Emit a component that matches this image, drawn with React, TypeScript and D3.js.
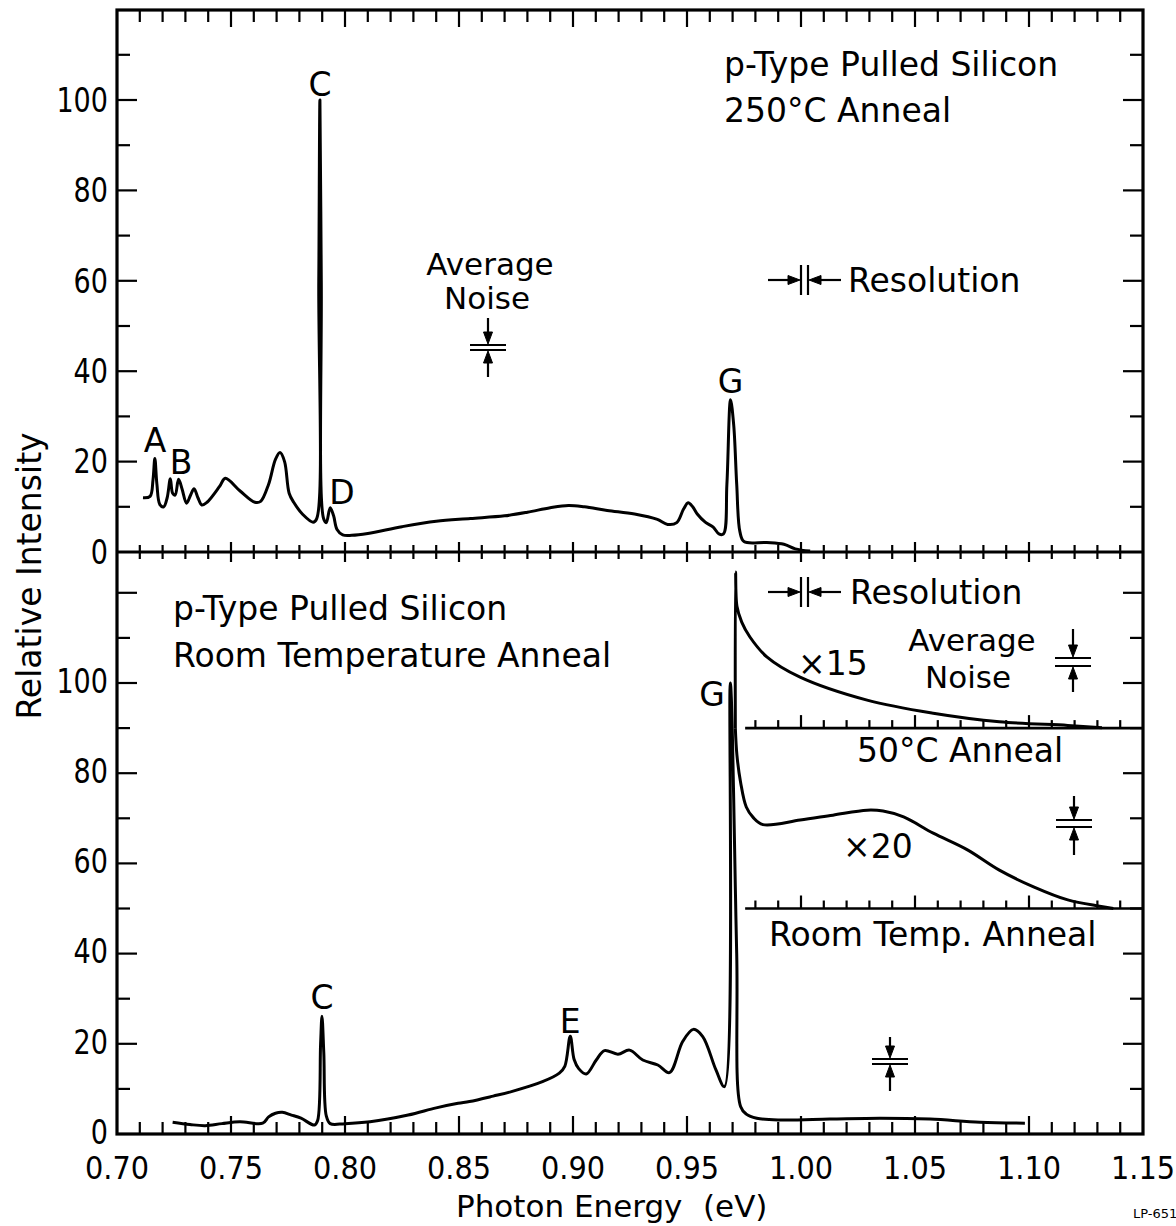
import React from "react";
import * as d3 from "d3";

// ---------- data ----------
const xTickLabels = [0.7, 0.75, 0.8, 0.85, 0.9, 0.95, 1.0, 1.05, 1.1, 1.15];
const yTickLabels = [0, 20, 40, 60, 80, 100];

// top panel: p-type pulled silicon, 250°C anneal
const anneal250: [number, number][] = [
  [0.7114, 12.0], [0.7145, 12.3], [0.7158, 16], [0.7166, 20.7], [0.7175, 15],
  [0.7188, 10.5], [0.7205, 10.0], [0.722, 12], [0.7234, 16.2], [0.7244, 13.0],
  [0.7255, 12.6], [0.727, 16.1], [0.7285, 14], [0.7305, 10.8], [0.7322, 12.5],
  [0.7338, 14.0], [0.7355, 12], [0.7372, 10.4], [0.7395, 11.0], [0.745, 14.5],
  [0.7475, 16.3], [0.754, 13.5], [0.7605, 11.0], [0.763, 11.2], [0.7665, 15],
  [0.7695, 20.5], [0.7715, 22.0], [0.7735, 20.0], [0.7755, 13], [0.7775, 11],
  [0.7815, 8.3], [0.786, 6.6], [0.7876, 7.4], [0.7885, 60], [0.789, 100],
  [0.7896, 60], [0.7906, 7.4], [0.7918, 6.5], [0.7935, 9.8], [0.795, 8],
  [0.7965, 5], [0.799, 3.8], [0.803, 3.7], [0.81, 4.1], [0.825, 5.6],
  [0.84, 6.8], [0.855, 7.4], [0.87, 8.0], [0.88, 8.8], [0.89, 9.8],
  [0.898, 10.3], [0.905, 10.0], [0.915, 9.2], [0.927, 8.4], [0.937, 7.2],
  [0.9415, 6.1], [0.9455, 6.5], [0.9485, 9.5], [0.9505, 10.9], [0.9525, 10.0],
  [0.9545, 8.4], [0.958, 6.6], [0.9615, 5.5], [0.964, 4.0], [0.966, 4.0],
  [0.9675, 15], [0.9691, 33.7], [0.9705, 28], [0.9718, 15], [0.9732, 4.5],
  [0.975, 2.3], [0.985, 2.1], [0.9925, 1.7], [0.9975, 0.7], [1.004, 0.2],
];

// bottom panel: room temperature anneal
const roomTemp: [number, number][] = [
  [0.7244, 2.6], [0.732, 2.1], [0.7387, 1.85], [0.746, 2.3], [0.7538, 2.7],
  [0.7639, 2.4], [0.7665, 3.8], [0.7695, 4.6], [0.7725, 4.8], [0.7765, 4.2],
  [0.7807, 3.5], [0.7866, 2.0], [0.788, 3], [0.7893, 20], [0.7899, 26.1],
  [0.7907, 18], [0.7918, 4], [0.7935, 2.3], [0.8, 2.3], [0.811, 2.7],
  [0.8277, 4.2], [0.84, 5.8], [0.8496, 6.8], [0.8546, 7.2], [0.865, 8.4],
  [0.873, 9.4], [0.8866, 11.6], [0.894, 13.5], [0.8964, 15], [0.8988, 21.7],
  [0.9005, 16.5], [0.9025, 14.5], [0.9058, 13.3], [0.9102, 16.4], [0.9138, 18.5],
  [0.9197, 17.7], [0.9248, 18.6], [0.9306, 16.4], [0.9372, 15.3], [0.9423, 13.6],
  [0.9481, 20.5], [0.9528, 23.2], [0.9569, 21.6], [0.9627, 14.2], [0.9664, 10.5],
  [0.969, 100], [0.9718, 40], [0.9735, 6.1], [0.976, 4.4], [0.9806, 3.5],
  [0.9908, 3.1], [1.0127, 3.3], [1.0346, 3.5], [1.0566, 3.3], [1.0785, 2.6],
  [1.0982, 2.4],
];

// inset x15 (50°C anneal), baseline 90
const times15: [number, number][] = [
  [0.9712, 90], [0.9713, 124.6], [0.9719, 117], [0.974, 113.5], [0.9776, 110.2],
  [0.985, 105.8], [0.9996, 101.3], [1.029, 96.2], [1.058, 93.3], [1.087, 91.4],
  [1.117, 90.6], [1.132, 90.1],
];

// inset x20 (room temp anneal), baseline 50
const times20: [number, number][] = [
  [0.9712, 90], [0.9719, 84], [0.9735, 78], [0.976, 72.5], [0.979, 70.2],
  [0.9833, 68.6], [0.9996, 69.6], [1.014, 70.7], [1.029, 71.8], [1.036, 71.6],
  [1.045, 70.3], [1.058, 66.7], [1.073, 63.0], [1.087, 58.5], [1.102, 54.8],
  [1.117, 51.9], [1.131, 50.5], [1.137, 50.0],
];

const insetBaselines = [90, 50];

// ---------- layout ----------
const W = 1176, H = 1226;
const L = 117, R = 1143, T = 10, MID = 552, B = 1134;
const FONT = "'DejaVu Sans', sans-serif";
const SW = 3;

const x = d3.scaleLinear().domain([0.7, 1.15]).range([L, R]);
const yTop = d3.scaleLinear().domain([0, 100]).range([MID, 100]);
const yBot = d3.scaleLinear().domain([0, 100]).range([B, 683]);

const lineTop = d3.line<[number, number]>().x(d => x(d[0])).y(d => yTop(d[1])).curve(d3.curveCatmullRom.alpha(0.5));
const lineBot = d3.line<[number, number]>().x(d => x(d[0])).y(d => yBot(d[1])).curve(d3.curveCatmullRom.alpha(0.5));

const minorX = d3.range(71, 115).map(v => v / 100);
const isMajor = (v: number) => Math.round(v * 100) % 5 === 0;

function Noise({ cx, y1, y2, top, bottom }: { cx: number; y1: number; y2: number; top: number; bottom: number }) {
  const hw = 18;
  return (
    <g stroke="#000" strokeWidth={2.2} fill="#000">
      <line x1={cx - hw} x2={cx + hw} y1={y1} y2={y1} />
      <line x1={cx - hw} x2={cx + hw} y1={y2} y2={y2} />
      <line x1={cx} x2={cx} y1={top} y2={y1 - 8} />
      <path d={`M${cx - 4.5},${y1 - 13} L${cx + 4.5},${y1 - 13} L${cx},${y1 - 1} Z`} strokeWidth={1} />
      <line x1={cx} x2={cx} y1={y2 + 8} y2={bottom} />
      <path d={`M${cx - 4.5},${y2 + 13} L${cx + 4.5},${y2 + 13} L${cx},${y2 + 1} Z`} strokeWidth={1} />
    </g>
  );
}

function Resolution({ bx, y }: { bx: number; y: number }) {
  const b2 = bx + 7;
  return (
    <g stroke="#000" strokeWidth={2.2} fill="#000">
      <line x1={bx - 33} x2={bx - 8} y1={y} y2={y} />
      <path d={`M${bx - 13},${y - 4.5} L${bx - 13},${y + 4.5} L${bx - 1},${y} Z`} strokeWidth={1} />
      <line x1={bx} x2={bx} y1={y - 15} y2={y + 15} />
      <line x1={b2} x2={b2} y1={y - 15} y2={y + 15} />
      <line x1={b2 + 8} x2={b2 + 33} y1={y} y2={y} />
      <path d={`M${b2 + 13},${y - 4.5} L${b2 + 13},${y + 4.5} L${b2 + 1},${y} Z`} strokeWidth={1} />
    </g>
  );
}

export default function App() {
  const yTicksTop = d3.range(10, 120, 10);
  const yTicksBot = d3.range(10, 130, 10);
  const insetTicks = d3.range(98, 115).map(v => v / 100);
  const fs = 33;
  return (
    <svg width={W} height={H} style={{ position: "absolute", left: 0, top: 0, background: "#fff" }} fontFamily={FONT}>
      <rect x={0} y={0} width={W} height={H} fill="#fff" />
      {/* frame */}
      <rect x={L} y={T} width={R - L} height={B - T} fill="none" stroke="#000" strokeWidth={3.2} />
      <line x1={L} x2={R} y1={MID} y2={MID} stroke="#000" strokeWidth={3.2} />

      {/* x ticks */}
      <g stroke="#000" strokeWidth={2.2}>
        {minorX.map(v => (
          <g key={v}>
            <line x1={x(v)} x2={x(v)} y1={T} y2={T + (isMajor(v) ? 17 : 12)} />
            <line x1={x(v)} x2={x(v)} y1={MID - (isMajor(v) ? 10 : 7)} y2={MID + (isMajor(v) ? 10 : 7)} />
            <line x1={x(v)} x2={x(v)} y1={B} y2={B - (isMajor(v) ? 18 : 12)} />
          </g>
        ))}
        {/* y ticks */}
        {yTicksTop.map(v => (
          <g key={"t" + v}>
            <line x1={L} x2={L + (v % 20 === 0 ? 20 : 13)} y1={yTop(v)} y2={yTop(v)} />
            <line x1={R} x2={R - (v % 20 === 0 ? 20 : 13)} y1={yTop(v)} y2={yTop(v)} />
          </g>
        ))}
        {yTicksBot.map(v => (
          <g key={"b" + v}>
            <line x1={L} x2={L + (v % 20 === 0 ? 20 : 13)} y1={yBot(v)} y2={yBot(v)} />
            <line x1={R} x2={R - (v % 20 === 0 ? 20 : 13)} y1={yBot(v)} y2={yBot(v)} />
          </g>
        ))}
        {/* inset baselines */}
        {insetBaselines.map(b => (
          <g key={"ib" + b}>
            <line x1={x(0.9755)} x2={R} y1={yBot(b)} y2={yBot(b)} strokeWidth={2.6} />
            {insetTicks.map(v => (
              <line key={v} x1={x(v)} x2={x(v)} y1={yBot(b)} y2={yBot(b) - (isMajor(v) ? 13 : 8)} />
            ))}
          </g>
        ))}
      </g>

      {/* tick labels */}
      <g fontSize={fs} fill="#000">
        {yTickLabels.map(v => (
          <text key={"lt" + v} transform={`translate(108,${yTop(v)}) scale(0.82,1)`} dy="0.36em" textAnchor="end">{v}</text>
        ))}
        {yTickLabels.map(v => (
          <text key={"lb" + v} transform={`translate(108,${yBot(v) - 2}) scale(0.82,1)`} dy="0.36em" textAnchor="end">{v}</text>
        ))}
        {xTickLabels.map(v => (
          <text key={"x" + v} transform={`translate(${x(v)},1179) scale(0.9,1)`} textAnchor="middle" fontSize={32}>{v.toFixed(2)}</text>
        ))}
      </g>

      {/* curves */}
      <g fill="none" stroke="#000" strokeWidth={SW} strokeLinejoin="round">
        <path d={lineTop(anneal250) || ""} />
        <path d={lineBot(roomTemp) || ""} />
        <path d={lineBot(times15) || ""} />
        <path d={lineBot(times20) || ""} />
      </g>

      {/* annotations top */}
      <g fontSize={fs} fill="#000">
        <text x={724} y={76}>p-Type Pulled Silicon</text>
        <text x={724} y={122}>250°C Anneal</text>
        <text x={x(0.789)} y={yTop(100) - 4} textAnchor="middle">C</text>
        <text x={x(0.9691)} y={393} textAnchor="middle">G</text>
        <text x={155} y={452} textAnchor="middle">A</text>
        <text x={181} y={474} textAnchor="middle">B</text>
        <text x={342} y={504} textAnchor="middle">D</text>
        <text x={490} y={275} textAnchor="middle" fontSize={31}>Average</text>
        <text x={487} y={309} textAnchor="middle" fontSize={31}>Noise</text>
        <text x={848} y={292}>Resolution</text>
      </g>
      <Noise cx={488} y1={345} y2={350} top={318} bottom={377} />
      <Resolution bx={x(1.0)} y={280} />

      {/* annotations bottom */}
      <g fontSize={fs} fill="#000">
        <text x={173} y={620}>p-Type Pulled Silicon</text>
        <text x={173} y={667}>Room Temperature Anneal</text>
        <text x={850} y={604}>Resolution</text>
        <text x={798} y={675}>×15</text>
        <text x={972} y={651} textAnchor="middle" fontSize={31}>Average</text>
        <text x={968} y={688} textAnchor="middle" fontSize={31}>Noise</text>
        <text x={857} y={762}>50°C Anneal</text>
        <text x={843} y={858}>×20</text>
        <text x={769} y={946}>Room Temp. Anneal</text>
        <text x={x(0.7899)} y={1009} textAnchor="middle">C</text>
        <text x={x(0.8988)} y={1033} textAnchor="middle">E</text>
        <text x={712} y={706} textAnchor="middle">G</text>
      </g>
      <Resolution bx={x(1.0)} y={592} />
      <Noise cx={1073} y1={658} y2={666} top={629} bottom={692} />
      <Noise cx={1074} y1={820} y2={827} top={796} bottom={855} />
      <Noise cx={890} y1={1059} y2={1064} top={1037} bottom={1091} />

      {/* axis titles */}
      <text transform="translate(41,576) rotate(-90)" textAnchor="middle" fontSize={33}>Relative Intensity</text>
      <text x={456} y={1217} fontSize={31}>Photon Energy</text>
      <text x={703} y={1217} fontSize={31}>(eV)</text>
      <text x={1133} y={1218} fontSize={13}>LP-651</text>
    </svg>
  );
}
